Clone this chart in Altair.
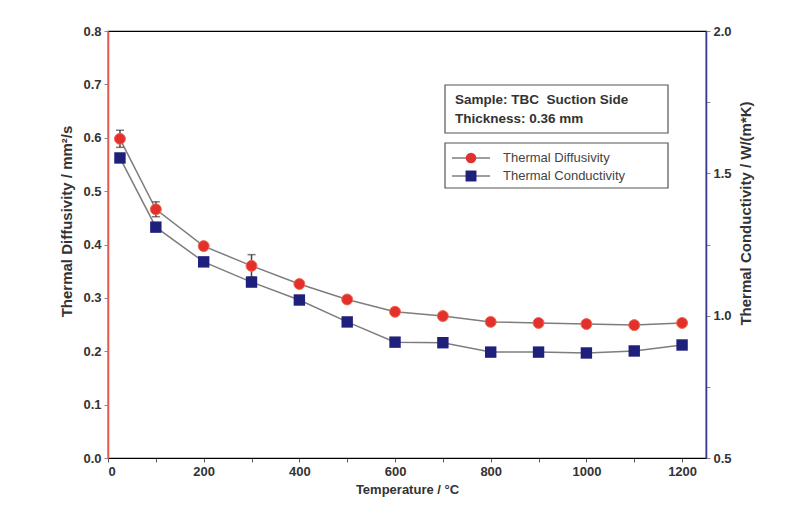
import altair as alt
import pandas as pd

temps = [25, 100, 200, 300, 400, 500, 600, 700, 800, 900, 1000, 1100, 1200]
diffusivity = [0.598, 0.466, 0.397, 0.360, 0.326, 0.297, 0.274, 0.266, 0.255, 0.253, 0.251, 0.249, 0.253]
diff_err = [0.016, 0.014, 0.006, 0.021, 0.005, 0.004, 0.004, 0.004, 0.004, 0.004, 0.004, 0.004, 0.004]
conductivity = [1.554, 1.311, 1.189, 1.118, 1.055, 0.978, 0.907, 0.905, 0.872, 0.872, 0.869, 0.876, 0.897]

x_ticks = list(range(0, 1300, 100))
left_ticks = [round(i * 0.05, 2) for i in range(17)]
right_ticks = [0.5, 0.75, 1.0, 1.25, 1.5, 1.75, 2.0]

info_lines = ["Sample: TBC\u00a0\u00a0Suction Side", "Thickness: 0.36 mm"]
series_names = ["Thermal Diffusivity", "Thermal Conductivity"]

RED = "#e2302c"
BLUE = "#1f1f7c"
LINE = "#7d7d7d"
FONT = "Liberation Sans"

df = pd.DataFrame({
    "T": temps,
    "D": diffusivity,
    "lo": [d - e for d, e in zip(diffusivity, diff_err)],
    "hi": [d + e for d, e in zip(diffusivity, diff_err)],
    "K": conductivity,
})
one = pd.DataFrame({"a": [0]})

x_enc = alt.X(
    "T:Q",
    scale=alt.Scale(domain=[0, 1250], nice=False, zero=False),
    axis=alt.Axis(
        values=x_ticks, format="d",
        labelExpr="datum.value % 200 == 0 ? datum.label : ''",
        title="Temperature / °C", domainColor="#000000", domainWidth=1.2,
        tickColor="#555555", tickSize=4, labelPadding=3, titlePadding=5,
        grid=False,
    ),
)

left_axis = alt.Axis(
    values=left_ticks, format=".1f",
    labelExpr="abs(datum.value*10 - round(datum.value*10)) < 0.001 ? format(datum.value, '.1f') : ''",
    title="Thermal Diffusivity / mm²/s", domainColor="#e35a52", domainWidth=1.6,
    tickColor="#888888", tickSize=4, labelPadding=3, titlePadding=8, grid=False,
    titleFontSize=15, titleY=190,
)
right_axis = alt.Axis(
    values=right_ticks, format=".1f",
    labelExpr="abs(datum.value*2 - round(datum.value*2)) < 0.001 ? format(datum.value, '.1f') : ''",
    title="Thermal Conductivity / W/(m*K)", domainColor="#3c3c8e", domainWidth=1.6,
    tickColor="#888888", tickSize=4, labelPadding=3, titlePadding=7, grid=False,
    orient="right", titleAngle=270, titleBaseline="top", titleFontSize=15, titleY=182,
)

base = alt.Chart(df)
yL = alt.Y("D:Q", scale=alt.Scale(domain=[0, 0.8], nice=False), axis=left_axis)
yR = alt.Y("K:Q", scale=alt.Scale(domain=[0.5, 2.0], nice=False), axis=right_axis)

red_line = base.mark_line(color=LINE, strokeWidth=1.5).encode(x=x_enc, y=yL)
err = base.mark_errorbar(ticks=alt.TickConfig(size=8, thickness=1.5), color="#444444", thickness=1.5).encode(
    x="T:Q", y=alt.Y("lo:Q", title=""), y2="hi:Q")
red_pts = base.mark_point(shape="circle", filled=True, size=120, color=RED, opacity=1,
                          stroke="#f06a50", strokeWidth=1).encode(x="T:Q", y="D:Q")

# legend / info boxes (annotation, pixel positions)
ann = alt.Chart(one)
box1 = ann.mark_rect(fill="white", stroke="#555555", strokeWidth=1.2).encode(
    x=alt.value(337), x2=alt.value(560), y=alt.value(54), y2=alt.value(102))
box2 = ann.mark_rect(fill="white", stroke="#555555", strokeWidth=1.2).encode(
    x=alt.value(337), x2=alt.value(560), y=alt.value(112), y2=alt.value(157))
info1 = ann.mark_text(align="left", baseline="middle", font=FONT, fontWeight="bold", fontSize=13.5,
                      color="#333333").encode(x=alt.value(347), y=alt.value(69), text=alt.value(info_lines[0]))
info2 = ann.mark_text(align="left", baseline="middle", font=FONT, fontWeight="bold", fontSize=13.5,
                      color="#333333").encode(x=alt.value(347), y=alt.value(88), text=alt.value(info_lines[1]))
lg_line1 = ann.mark_rule(color=LINE, strokeWidth=1.5).encode(
    x=alt.value(344), x2=alt.value(382), y=alt.value(127))
lg_line2 = ann.mark_rule(color=LINE, strokeWidth=1.5).encode(
    x=alt.value(344), x2=alt.value(382), y=alt.value(145))
lg_pt1 = ann.mark_point(shape="circle", filled=True, size=110, color=RED, opacity=1).encode(
    x=alt.value(363), y=alt.value(127))
lg_pt2 = ann.mark_point(shape="square", filled=True, size=120, color=BLUE, opacity=1).encode(
    x=alt.value(363), y=alt.value(145))
lg_t1 = ann.mark_text(align="left", baseline="middle", font=FONT, fontSize=13, color="#444444").encode(
    x=alt.value(395), y=alt.value(127), text=alt.value(series_names[0]))
lg_t2 = ann.mark_text(align="left", baseline="middle", font=FONT, fontSize=13, color="#444444").encode(
    x=alt.value(395), y=alt.value(145), text=alt.value(series_names[1]))

left_group = alt.layer(red_line, err, red_pts, box1, box2, info1, info2,
                       lg_line1, lg_line2, lg_pt1, lg_pt2, lg_t1, lg_t2)

blue_line = base.mark_line(color=LINE, strokeWidth=1.5).encode(x="T:Q", y=yR)
blue_pts = base.mark_point(shape="square", filled=True, size=130, color=BLUE, opacity=1).encode(
    x="T:Q", y="K:Q")
right_group = alt.layer(blue_line, blue_pts)

chart = alt.layer(left_group, right_group).resolve_scale(y="independent").properties(
    width=598, height=427,
    autosize=alt.AutoSizeParams(type="none"),
    padding={"left": 100, "top": 23, "right": 74, "bottom": 51},
    background="white",
).configure_view(stroke="#000000", strokeWidth=1.2).configure_axis(
    labelFont=FONT, labelFontWeight="bold", labelFontSize=13, labelColor="#333333",
    titleFont=FONT, titleFontWeight="bold", titleFontSize=13, titleColor="#333333",
)

chart.save("out.html", embed_options={"renderer": "svg", "actions": False})
